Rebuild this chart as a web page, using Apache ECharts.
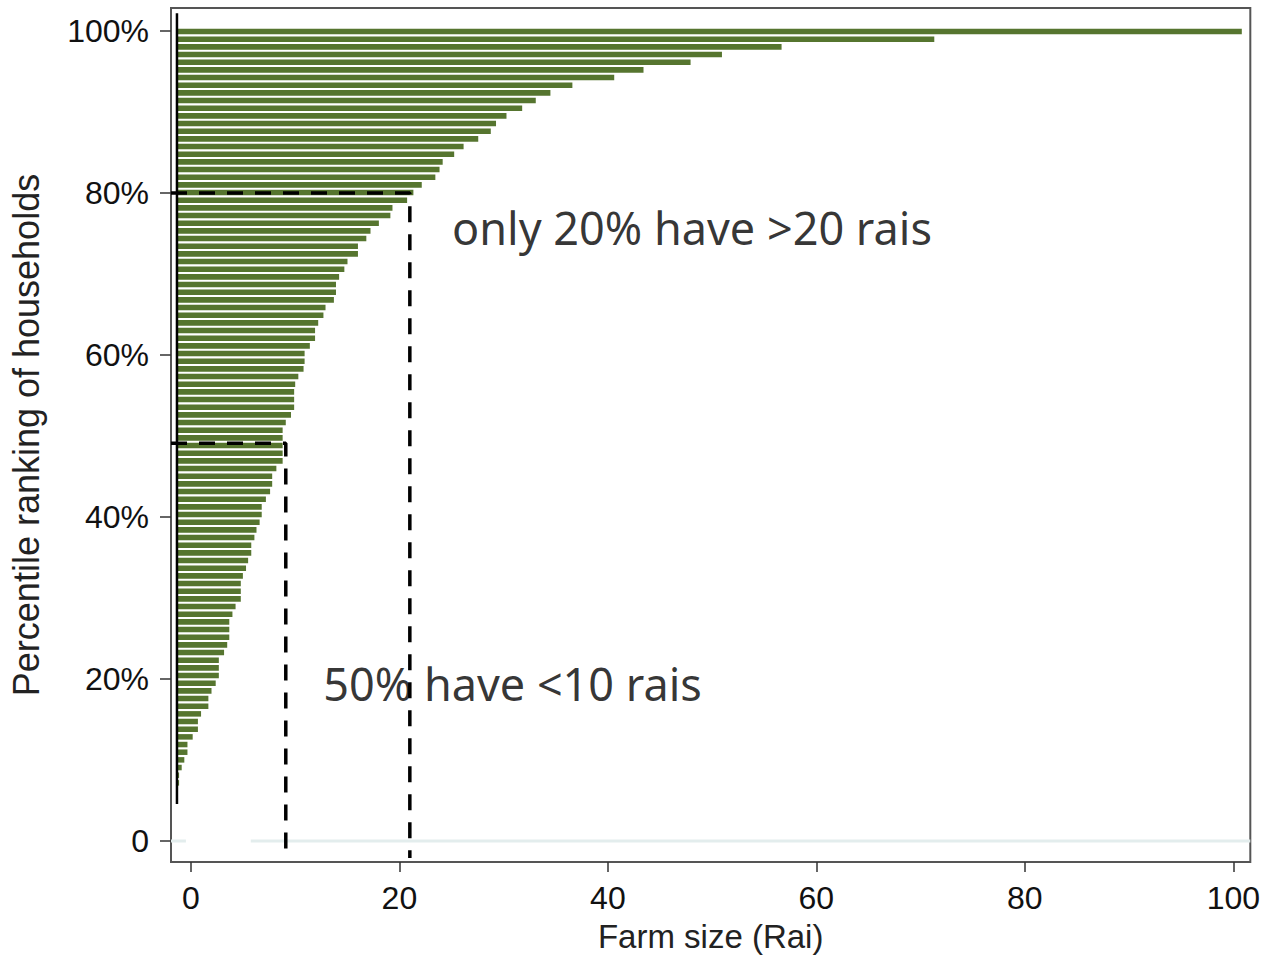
<!DOCTYPE html>
<html>
<head>
<meta charset="utf-8">
<script src="https://cdn.jsdelivr.net/npm/echarts@6/dist/echarts.min.js"></script>
<style>
html,body{margin:0;padding:0;background:#fff;}
#chart{width:1263px;height:962px;}
</style>
</head>
<body>
<div id="chart"></div>
<script>
// Household rank (1 = smallest farm, bottom bar)
const ranks = [1,2,3,4,5,6,7,8,9,10,11,12,13,14,15,16,17,18,19,20,
  21,22,23,24,25,26,27,28,29,30,31,32,33,34,35,36,37,38,39,40,
  41,42,43,44,45,46,47,48,49,50,51,52,53,54,55,56,57,58,59,60,
  61,62,63,64,65,66,67,68,69,70,71,72,73,74,75,76,77,78,79,80,
  81,82,83,84,85,86,87,88,89,90,91,92,93,94,95,96,97,98,99];
// Farm size (rai), bar length, ascending by rank
const farmSize = [0.2,0.2,0.45,0.7,1.0,1.0,1.5,2.0,2.0,2.3,
  3.0,3.0,3.3,3.7,4.0,4.0,4.0,4.5,4.8,5.0,
  5.0,5.0,5.3,5.6,6.1,6.1,6.1,6.3,6.6,6.8,
  7.1,7.1,7.4,7.6,7.9,8.1,8.1,8.5,8.9,9.1,
  9.1,9.5,10.1,10.1,10.1,10.1,10.1,10.4,10.9,11.2,
  11.2,11.2,11.3,11.6,12.1,12.2,12.2,12.7,13.2,13.2,
  13.5,14.0,14.2,15.0,15.2,15.2,15.5,16.0,16.3,17.3,
  17.3,18.1,18.5,19.3,20.4,20.6,22.0,22.6,23.4,24.7,
  25.1,25.4,26.5,27.4,28.8,30.0,30.5,31.5,33.0,34.3,
  35.7,37.8,41.8,44.6,49.1,52.1,57.8,72.4,101.8];
const xTickValues = [0,20,40,60,80,100];
const yTickValues = [0,20,40,60,80,100];
// Reference cut-offs: [percentile, farm size]
const cutTop20 = [80, 21.0];
const cutMedian = [49.1, 9.1];
const annotations = ['only 20% have >20 rais', '50% have <10 rais'];

const X_MIN = -1.912, X_MAX = 101.63;
const Y_MIN = -2.59, Y_MAX = 102.84;
const BAR_X_MIN = -0.669, BAR_X_MAX = 102.87;
const LEFT_EDGE = X_MIN;
const BASE_LINE_X = -1.34;

const chart = echarts.init(document.getElementById('chart'), null, {renderer: 'svg'});
const labelFont = {fontFamily: '"Liberation Sans", Arial, sans-serif', fontSize: 32, color: '#111'};
const dash = {color: '#000', width: 3.5, type: [16, 12]};

chart.setOption({
  animation: false,
  backgroundColor: '#fff',
  grid: [
    {left: 170, right: 10, top: 8, bottom: 100, show: true, borderColor: '#555', borderWidth: 2, backgroundColor: 'transparent', z: 0},
    {left: 170, right: 10, top: 27.7, bottom: 175.3, show: false}
  ],
  xAxis: [
    {type: 'value', gridIndex: 0, min: X_MIN, max: X_MAX, position: 'bottom',
     name: 'Farm size (Rai)', nameLocation: 'middle', nameGap: 58,
     nameTextStyle: {fontFamily: '"Liberation Sans", Arial, sans-serif', fontSize: 33, color: '#222'},
     axisLine: {show: false, onZero: false},
     axisTick: {show: true, inside: false, length: 10, lineStyle: {color: '#333', width: 1.5}, customValues: xTickValues},
     axisLabel: Object.assign({margin: 20, customValues: xTickValues}, labelFont),
     splitLine: {show: false}},
    {type: 'value', gridIndex: 1, min: BAR_X_MIN, max: BAR_X_MAX, show: false}
  ],
  yAxis: [
    {type: 'value', gridIndex: 0, min: Y_MIN, max: Y_MAX, position: 'left',
     name: 'Percentile ranking of households', nameLocation: 'middle', nameGap: 127,
     nameTextStyle: {fontFamily: '"Liberation Sans", Arial, sans-serif', fontSize: 36, color: '#222'},
     axisLine: {show: false, onZero: false},
     axisTick: {show: true, inside: false, length: 11, lineStyle: {color: '#333', width: 1.5}, customValues: yTickValues},
     axisLabel: Object.assign({margin: 22, customValues: yTickValues,
       formatter: v => v === 0 ? '0' : v + '%'}, labelFont),
     splitLine: {show: false}},
    {type: 'category', gridIndex: 1, data: ranks, show: false}
  ],
  series: [
    {type: 'line', xAxisIndex: 0, yAxisIndex: 0, symbol: 'none', silent: true,
     lineStyle: {color: '#e3eded', width: 3}, connectNulls: false, z: 1,
     data: [[LEFT_EDGE, 0], [-0.48, 0], ['-', '-'], [5.74, 0], [X_MAX, 0]]},
    {type: 'bar', xAxisIndex: 1, yAxisIndex: 1, data: farmSize, barWidth: '72%',
     itemStyle: {color: '#56752f'}, z: 2},
    {type: 'line', xAxisIndex: 0, yAxisIndex: 0, symbol: 'none', silent: true, z: 3,
     lineStyle: {color: '#000', width: 2.5},
     data: [[BASE_LINE_X, 102.2], [BASE_LINE_X, 4.57]]},
    {type: 'line', xAxisIndex: 0, yAxisIndex: 0, symbol: 'none', silent: true, z: 4,
     lineStyle: dash,
     data: [[LEFT_EDGE, cutTop20[0]], [cutTop20[1], cutTop20[0]], [cutTop20[1], -2.1]]},
    {type: 'line', xAxisIndex: 0, yAxisIndex: 0, symbol: 'none', silent: true, z: 4,
     lineStyle: dash,
     data: [[LEFT_EDGE, cutMedian[0]], [cutMedian[1], cutMedian[0]], [cutMedian[1], -1.36]]},
    {type: 'scatter', xAxisIndex: 0, yAxisIndex: 0, symbolSize: 0, silent: true, z: 5,
     label: {show: true, position: 'right', distance: 0, formatter: p => p.data[2],
       fontFamily: '"Noto Sans", sans-serif', fontSize: 45, color: '#000', verticalAlign: 'middle'},
     data: [[25.05, 75.8, annotations[0]], [12.7, 19.5, annotations[1]]]}
  ]
});
</script>
</body>
</html>
